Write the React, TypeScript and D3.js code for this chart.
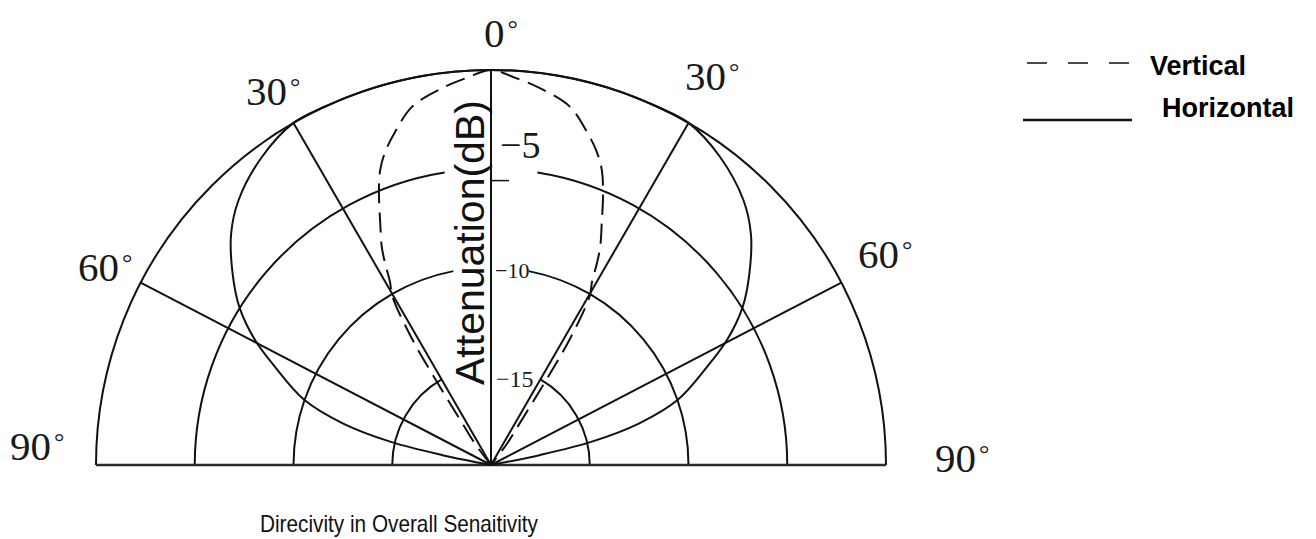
import React from "react";
import * as d3 from "d3";

// ---- data ----
// polar grid (attenuation, dB) and angular spokes (degrees from the 0° axis)
const ringDb = [0, -5, -10, -15];
const ringGapDeg = [0, 9, 11, 30];
const spokeDeg = [-62.5, -30, 0, 30, 62.5];
const axisTickDb = [-5.6];

// Vertical pattern (dashed), right half; mirrored to the left
const vertAngles = [0, 3.5, 7.4, 12.4, 16, 18.6, 20.6, 22.4, 24.6, 26.6, 27.7, 28.9, 30.3, 32, 33, 34.6, 37, 40];
const vertDb = [0, -0.35, -0.76, -1.42, -2.43, -3.24, -4.05, -5.11, -6.53, -7.65, -8.46, -9.42, -10.1, -12.4, -14.9, -17.5, -18.7, -20];

// Horizontal pattern (solid), right half; mirrored to the left
const horizAngles = [0, 5, 10, 15, 20, 25, 30, 36.6, 43.6, 48.4, 53.4, 57.9, 62.1, 65.6, 70.8, 74.3, 77, 78.5, 80];
const horizDb = [0, 0, 0, 0, 0, 0, 0, -0.56, -1.47, -2.4, -3.7, -4.96, -6.48, -8.0, -10, -12.2, -14.8, -17.5, -20];

const dbLabels = ["−5", "−10", "−15"];
const dbLabelValues = [-5, -10, -15];
const angleLabels = ["0", "30", "30", "60", "60", "90", "90"];

const legendNames = ["Vertical", "Horizontal"];
const title = "Direcivity in Overall Senaitivity";
const axisTitle = "Attenuation(dB)";

// ---- layout ----
const W = 1316, H = 539;
const cx = 491, cy = 465, R = 395;
const ink = "#111";
const serif = "'Liberation Serif', 'Times New Roman', serif";
const sans = "'Liberation Sans', Arial, sans-serif";

const angleLabelPos = [
  { x: 484, y: 47 },
  { x: 246, y: 105 },
  { x: 685, y: 90 },
  { x: 78, y: 281 },
  { x: 858, y: 268 },
  { x: 10, y: 460 },
  { x: 935, y: 472 },
];
const dbLabelStyle = [
  { x: 500, dy: -11, size: 38 },
  { x: 495, dy: 10.5, size: 22 },
  { x: 496, dy: 21, size: 24 },
];

const toRad = (d: number) => (d * Math.PI) / 180;
const rScale = d3.scaleLinear().domain([-20, 0]).range([0, R]);
const polar = (deg: number, r: number): [number, number] => [
  r * Math.sin(toRad(deg)),
  -r * Math.cos(toRad(deg)),
];

type P = [number, number];
const mirror = (angles: number[], dbs: number[]): P[] => {
  const right: P[] = angles.map((a, i) => [a, dbs[i]]);
  const left: P[] = right
    .slice(1)
    .reverse()
    .map(([a, d]) => [-a, d]);
  return [...left, ...right];
};

const radial = d3
  .lineRadial<P>()
  .angle((d) => toRad(d[0]))
  .radius((d) => rScale(d[1]))
  .curve(d3.curveCatmullRom.alpha(0.5));

const arcPath = (r: number, a0: number, a1: number) => {
  const p = d3.path();
  const [x0, y0] = polar(a0, r);
  p.moveTo(x0, y0);
  p.arc(0, 0, r, toRad(a0 - 90), toRad(a1 - 90), false);
  return p.toString();
};

export default function App() {
  const vertPath = radial(mirror(vertAngles, vertDb)) || "";
  const horizPath = radial(mirror(horizAngles, horizDb)) || "";

  const rings: string[] = [];
  ringDb.forEach((db, i) => {
    const r = rScale(db);
    const g = ringGapDeg[i];
    if (g === 0) rings.push(arcPath(r, -90, 90));
    else {
      rings.push(arcPath(r, -90, -g));
      rings.push(arcPath(r, g, 90));
    }
  });

  const [bx0, by0] = polar(-90, R);
  const [bx1, by1] = polar(90, R);

  return (
    <svg
      width={W}
      height={H}
      style={{ position: "absolute", left: 0, top: 0, background: "#fff" }}
    >
      <g transform={`translate(${cx},${cy})`} fill="none" stroke={ink} strokeWidth={2}>
        {rings.map((d, i) => (
          <path key={"r" + i} d={d} />
        ))}
        {spokeDeg.map((a, i) => {
          const [x, y] = polar(a, R);
          return <line key={"s" + i} x1={0} y1={0} x2={x} y2={y} />;
        })}
        <line x1={bx0} y1={by0} x2={bx1} y2={by1} strokeWidth={2.5} stroke="#2a2a2a" />
        {axisTickDb.map((db, i) => (
          <line key={"t" + i} x1={0} y1={-rScale(db)} x2={18} y2={-rScale(db)} strokeWidth={1.5} />
        ))}
        <path d={horizPath} />
        <path d={vertPath} strokeDasharray="20 9" />
      </g>

      {/* attenuation labels on the axis */}
      {dbLabels.map((t, i) => (
        <text
          key={"dl" + i}
          x={dbLabelStyle[i].x}
          y={cy - rScale(dbLabelValues[i]) + dbLabelStyle[i].dy}
          fontFamily={serif}
          fontSize={dbLabelStyle[i].size}
          fill="#1a1a1a"
        >
          {t}
        </text>
      ))}

      {/* angle labels */}
      {angleLabels.map((t, i) => (
        <text
          key={"al" + i}
          x={angleLabelPos[i].x}
          y={angleLabelPos[i].y}
          fontFamily={serif}
          fontSize={41}
          fill="#1a1a1a"
        >
          {t}
          <tspan dx={3} dy={-10} fontSize={26}>
            °
          </tspan>
        </text>
      ))}

      {/* vertical axis title */}
      <text
        transform={`translate(484,385) rotate(-90)`}
        fontFamily={sans}
        fontSize={41}
        fill="#111"
      >
        {axisTitle}
      </text>

      {/* legend */}
      <line x1={1027} y1={63} x2={1132} y2={63} stroke={ink} strokeWidth={1.5} strokeDasharray="20 21" />
      <text x={1150} y={75} fontFamily={sans} fontWeight="bold" fontSize={27} fill="#000">
        {legendNames[0]}
      </text>
      <line x1={1023} y1={120} x2={1132} y2={120} stroke={ink} strokeWidth={2.5} />
      <text x={1162} y={117} fontFamily={sans} fontWeight="bold" fontSize={27} fill="#000">
        {legendNames[1]}
      </text>

      {/* title */}
      <text
        x={260}
        y={532}
        fontFamily={sans}
        fontSize={24}
        textLength={278}
        lengthAdjust="spacingAndGlyphs"
        fill="#111"
      >
        {title}
      </text>
    </svg>
  );
}
